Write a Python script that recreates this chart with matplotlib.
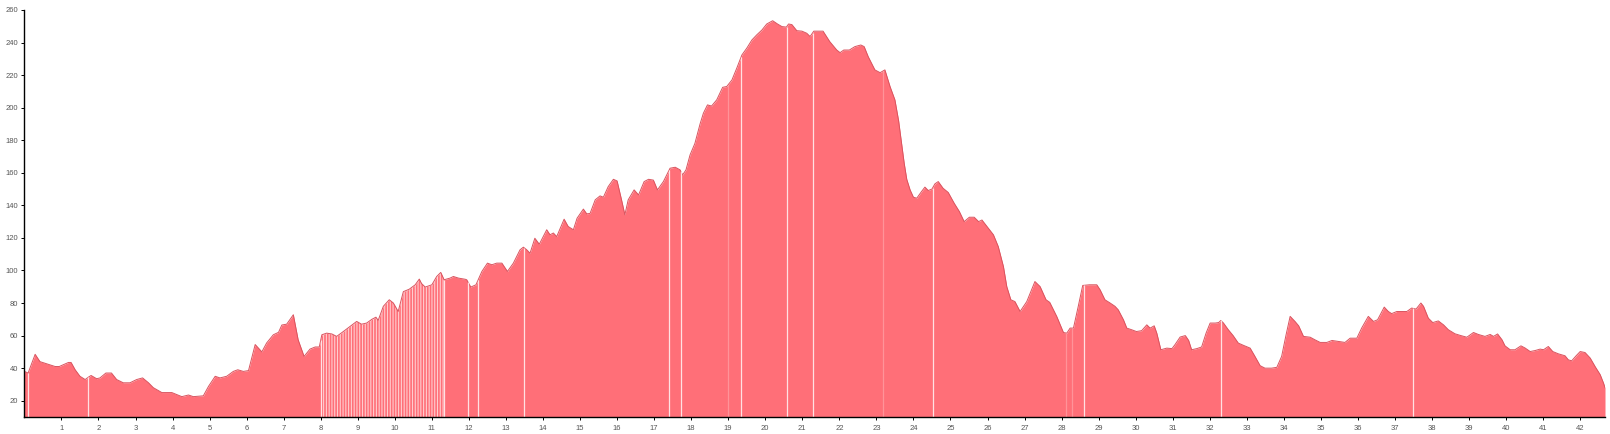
import numpy as np
import matplotlib.pyplot as plt

# elevation profile, distance in km and elevation in m
distance_km = [
    0.0, 0.1, 0.29, 0.42, 0.56, 0.83, 0.94, 1.19, 1.26, 1.37, 1.5, 1.64, 1.73, 1.8, 1.95,
    2.04, 2.2, 2.35, 2.49, 2.67, 2.85, 3.03, 3.19, 3.35, 3.48, 3.71, 3.89, 3.98, 4.25, 4.43,
    4.56, 4.83, 4.97, 5.15, 5.28, 5.46, 5.64, 5.76, 5.91, 6.05, 6.23, 6.41, 6.54, 6.72, 6.86,
    6.95, 7.08, 7.26, 7.39, 7.55, 7.71, 7.85, 7.96, 8.03, 8.16, 8.3, 8.43, 8.61, 8.79, 8.97,
    9.1, 9.24, 9.38, 9.49, 9.55, 9.69, 9.85, 9.96, 10.09, 10.23, 10.39, 10.55, 10.66, 10.72,
    10.82, 11.0, 11.13, 11.24, 11.33, 11.49, 11.58, 11.72, 11.9, 11.94, 12.05, 12.19, 12.35,
    12.5, 12.62, 12.75, 12.89, 13.04, 13.2, 13.38, 13.47, 13.56, 13.65, 13.78, 13.9, 14.1,
    14.19, 14.28, 14.37, 14.57, 14.68, 14.82, 14.92, 15.09, 15.18, 15.27, 15.41, 15.54, 15.63,
    15.76, 15.9, 16.0, 16.12, 16.21, 16.3, 16.46, 16.58, 16.73, 16.85, 16.98, 17.09, 17.25,
    17.43, 17.57, 17.7, 17.77, 17.86, 17.97, 18.1, 18.24, 18.33, 18.44, 18.55, 18.69, 18.85,
    18.96, 19.1, 19.23, 19.37, 19.5, 19.64, 19.77, 19.91, 20.04, 20.2, 20.33, 20.45, 20.57,
    20.63, 20.72, 20.85, 20.99, 21.12, 21.21, 21.31, 21.43, 21.56, 21.74, 21.93, 22.02, 22.12,
    22.27, 22.42, 22.58, 22.67, 22.78, 22.96, 23.1, 23.23, 23.37, 23.5, 23.6, 23.68, 23.75,
    23.82, 23.91, 24.0, 24.09, 24.22, 24.31, 24.4, 24.5, 24.58, 24.67, 24.8, 24.94, 25.1,
    25.24, 25.37, 25.51, 25.64, 25.76, 25.85, 26.02, 26.16, 26.29, 26.43, 26.52, 26.63, 26.74,
    26.88, 27.06, 27.28, 27.42, 27.58, 27.68, 27.87, 28.05, 28.14, 28.23, 28.32, 28.45, 28.57,
    28.75, 28.95, 29.04, 29.17, 29.31, 29.44, 29.53, 29.67, 29.76, 29.89, 30.02, 30.16, 30.3,
    30.39, 30.5, 30.57, 30.68, 30.84, 30.98, 31.06, 31.2, 31.34, 31.43, 31.51, 31.65, 31.78,
    31.9, 32.01, 32.15, 32.24, 32.3, 32.37, 32.5, 32.63, 32.77, 32.91, 33.09, 33.22, 33.36,
    33.49, 33.67, 33.81, 33.94, 34.06, 34.17, 34.3, 34.4, 34.53, 34.71, 34.84, 34.98, 35.16,
    35.3, 35.48, 35.65, 35.79, 35.97, 36.1, 36.28, 36.42, 36.53, 36.71, 36.82, 36.91, 37.05,
    37.14, 37.32, 37.45, 37.57, 37.7, 37.77, 37.9, 38.02, 38.17, 38.31, 38.44, 38.62, 38.78,
    38.94, 39.12, 39.25, 39.43, 39.57, 39.66, 39.77, 39.89, 39.97, 40.11, 40.24, 40.4, 40.51,
    40.65, 40.78, 40.92, 41.01, 41.14, 41.26, 41.41, 41.59, 41.68, 41.77, 41.89, 42.0, 42.13,
    42.27, 42.41, 42.54, 42.63, 42.67,
]
elevation_m = [
    38, 37, 48.5, 44, 43, 41, 41, 43.5, 43.5, 39, 35, 33, 34.5, 35.5, 33.5,
    34, 37, 37, 33, 31, 31, 33, 34, 31, 28, 25, 25, 25, 22.5, 23.5,
    22.5, 23, 28.8, 35, 34, 35, 38, 39, 38, 38.5, 54.5, 50, 55.5, 60.5, 62,
    66.5, 67, 72.8, 57.4, 47.2, 51.7, 53, 53, 60.5, 61.5, 61, 59.5, 62.5, 65.6, 68.7,
    67, 67.7, 70, 71.3, 69.3, 78, 82, 80, 74.8, 87, 88.5, 91.2, 94.7, 92,
    89.8, 91.2, 96.3, 98.8, 94.3, 95.3, 96.3, 95.3, 94.6, 94.3, 89.8, 91.2, 99.4,
    104.5, 103.5, 104.5, 104.5, 99.4, 104.5, 112.7, 114.3, 112.7, 110.6, 119.8, 116.1, 125,
    121.9, 123, 120.8, 131.5, 127, 125, 132.1, 137.7, 134.8, 135, 143.4, 145.8, 145,
    151.5, 156, 155, 143.4, 134.2, 143.4, 149.5, 146.4, 154.6, 156, 155.5, 149.5, 154.6,
    162.8, 163.4, 161.8, 158.7, 161.8, 171, 178, 190, 196.6, 201.7, 201, 204.8, 212.5,
    213, 217, 224.2, 232.4, 236.5, 241.6, 244.7, 247.7, 251.4, 253.4, 251.4, 249.8, 249.5,
    251.4, 251, 247.3, 247, 245.7, 243.7, 247, 247, 247, 240.6, 235.4, 233.8, 235.4,
    235.4, 237.5, 238.5, 237.5, 231.3, 223.2, 221.5, 223.2, 212.9, 204.8, 192, 178, 166,
    156, 149.5, 145, 144.4, 148.5, 151.2, 149.1, 150, 153.2, 154.6, 150.5, 147.9, 141.3,
    136.2, 130, 132.7, 132.7, 130, 131, 126, 121.9, 114.7, 102.4, 90.1, 82, 80.9,
    74.8, 80.9, 93.2, 90.1, 82, 80.4, 71.7, 61.9, 61.5, 64.6, 64.6, 78, 90.8,
    91.2, 91.2, 88.1, 82, 80, 78, 75.8, 69.7, 64.6, 63.6, 62.5, 63, 66.6,
    64.6, 66, 61.5, 51.3, 52.3, 52, 54.4, 59.1, 60, 57, 51.3, 52, 53,
    61.5, 67.7, 67.7, 68, 69.3, 67.7, 63.6, 60, 55.4, 54, 52.3, 47.2, 41.5,
    40, 40, 40.5, 47.2, 60.5, 71.8, 68.7, 66, 59.5, 59, 57.4, 55.8, 55.8,
    57, 56.4, 55.8, 58.4, 58.4, 64.6, 71.8, 68.7, 69.7, 77.5, 74.8, 73.5, 74.8,
    74.8, 74.8, 76.9, 76.3, 80, 78, 70.7, 68, 69, 66.6, 63.6, 61.1, 60,
    59, 61.9, 60.7, 59.5, 60.7, 59.5, 61, 57.4, 53.7, 51.3, 51.3, 53.7, 52.4,
    50.2, 50.8, 51.7, 51.3, 53.3, 50.2, 48.8, 47.6, 45.1, 44.5, 47.6, 50.2, 49.6,
    46.2, 40.7, 36, 30.8, 28,
]

# gaps in the track (white seams in the area)
gap_km = [0.1, 1.73, 8.0, 11.33, 11.98, 12.25, 13.5, 17.4, 17.72, 19.35, 20.58, 21.28,
          24.52, 28.6, 32.3, 37.5]
faint_gap_km = [19.0, 23.17, 28.12, 28.27]
# section with sparse GPS points (striped)
sparse_section_km = (8.0, 11.33)

x_ticks = list(range(1, 43))
y_ticks = list(range(20, 261, 20))

fill_color = '#ff6f78'
edge_color = '#d9535e'

plt.rcParams['font.family'] = ['Liberation Sans', 'DejaVu Sans']
plt.rcParams['hatch.linewidth'] = 0.8

fig = plt.figure(figsize=(16.1, 4.34), dpi=100)
ax = fig.add_axes([0.01516, 0.0392, 0.98174, 0.9378])

km = np.array(distance_km)
elev = np.array(elevation_m)
ax.fill_between(km, 10, elev, color=fill_color, linewidth=0)
ax.plot(km, elev, color=edge_color, linewidth=0.7)

sparse = (km >= sparse_section_km[0]) & (km <= sparse_section_km[1])
ax.fill_between(km[sparse], 10, elev[sparse], facecolor='none',
                edgecolor=(1, 1, 1, 0.65), hatch='||||||', linewidth=0)

ax.vlines(gap_km, 10, np.interp(gap_km, km, elev), color='white', alpha=0.8, linewidth=0.9)
ax.vlines(faint_gap_km, 10, np.interp(faint_gap_km, km, elev), color='white', alpha=0.25,
          linewidth=0.9)

ax.set_xlim(0, distance_km[-1])
ax.set_ylim(10, 260)
ax.set_xticks(x_ticks)
ax.set_yticks(y_ticks)
ax.tick_params(labelsize=5.5, labelcolor='#555555', length=2.5, width=0.7, pad=2)
ax.tick_params(axis='x', pad=3)
for side in ['top', 'right']:
    ax.spines[side].set_visible(False)
for side in ['left', 'bottom']:
    ax.spines[side].set_linewidth(1.0)

plt.savefig('out.png', dpi=100)
